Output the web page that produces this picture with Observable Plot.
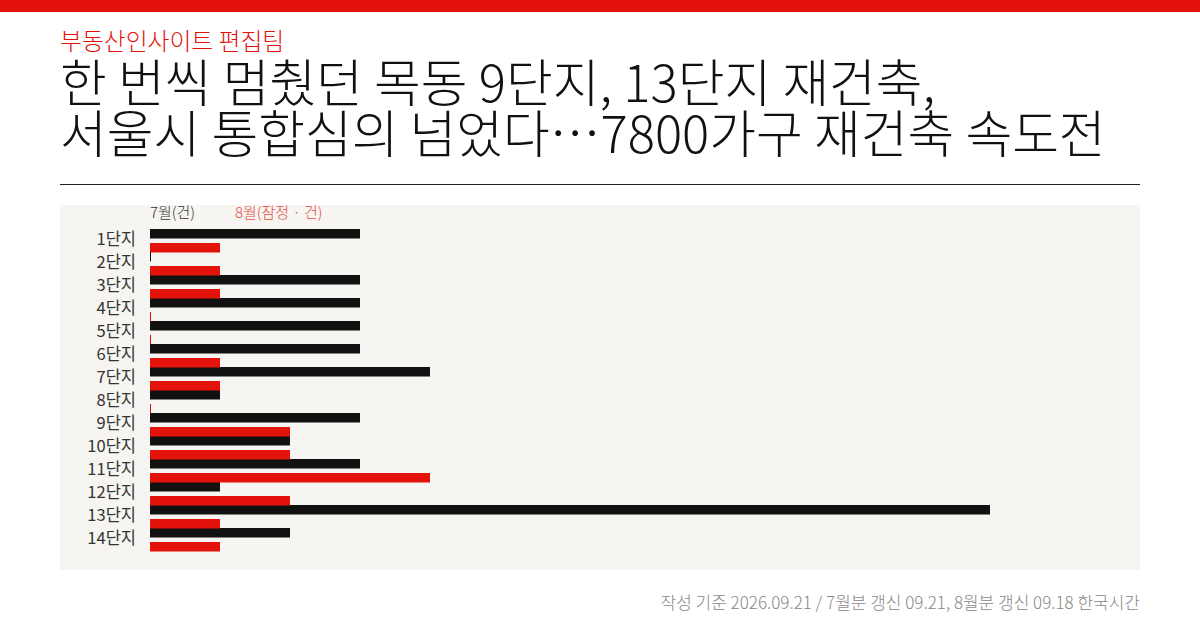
<!DOCTYPE html>
<html><head><meta charset="utf-8">
<script src="https://cdn.jsdelivr.net/npm/d3@7"></script>
<script src="https://cdn.jsdelivr.net/npm/@observablehq/plot@0.6"></script>
<style>
html,body{margin:0;padding:0;background:#fff;}
body{width:1200px;height:630px;position:relative;overflow:hidden;font-family:"Noto Sans CJK KR","Noto Sans",sans-serif;}
#topbar{position:absolute;left:0;top:0;width:1200px;height:12px;background:#e3120b;}
#kicker{position:absolute;left:60px;top:26px;font-size:23.8px;font-weight:300;color:#e3120b;line-height:28px;white-space:nowrap;}
#title{position:absolute;left:60px;top:55px;font-size:50.8px;font-weight:300;color:#111;line-height:51px;white-space:nowrap;}
#rule{position:absolute;left:60px;top:184px;width:1080px;height:1px;background:#222;}
#panel{position:absolute;left:60px;top:205px;width:1080px;height:365px;background:#f6f5f1;}
#legend{position:absolute;left:90px;top:-4px;font-size:15px;font-weight:300;line-height:22px;white-space:nowrap;}
#legend span{position:absolute;top:0;}
#footer{position:absolute;right:60px;top:590px;font-size:17px;font-weight:300;color:#888;white-space:nowrap;line-height:24px;}
</style></head>
<body>
<div id="topbar"></div>
<div id="kicker">부동산인사이트 편집팀</div>
<div id="title">한 번씩 멈췄던 목동 9단지, 13단지 재건축,<br>서울시 통합심의 넘었다…7800가구 재건축 속도전</div>
<div id="rule"></div>
<div id="panel"><div id="legend"><span style="left:0;color:#333">7월(건)</span><span style="left:85px;color:#e84a3f">8월(잠정 · 건)</span></div></div>
<div id="footer">작성 기준 2026.09.21 / 7월분 갱신 09.21, 8월분 갱신 09.18 한국시간</div>
<script>
const complexes = ["1단지","2단지","3단지","4단지","5단지","6단지","7단지","8단지","9단지","10단지","11단지","12단지","13단지","14단지"];
const july = [3,0,3,3,3,3,4,1,3,2,3,1,12,2];
const august = [1,1,1,0,0,1,1,0,2,2,4,2,1,1];

const julyData = complexes.map((c,i)=>({c, v: july[i]}));
const augData = complexes.map((c,i)=>({c, v: august[i]}));

const black = "#111111", red = "#e3120b";
const chart = Plot.plot({
  width: 1080,
  height: 365,
  marginLeft: 90,
  marginRight: 150,
  marginTop: 20,
  marginBottom: 15.5,
  style: {background: "transparent", fontFamily: "'Noto Sans CJK KR', sans-serif", fontSize: "16.5px", color: "#333"},
  x: {domain: [0, 12], axis: null},
  y: {domain: complexes, paddingInner: 0, paddingOuter: 0, label: null},
  marks: [
    Plot.axisY({tickSize: 0, tickPadding: 14.5, fontSize: 16.5, label: null, dy: -1.5}),
    Plot.barX(julyData, {x: "v", y: "c", fill: black, insetTop: 0, insetBottom: 13.5}),
    Plot.barX(augData, {x: "v", y: "c", fill: red, insetTop: 14, insetBottom: -0.5}),
    Plot.tickX(julyData.filter(d => d.v === 0), {x: "v", y: "c", stroke: black, insetTop: 0, insetBottom: 13.5}),
    Plot.tickX(augData.filter(d => d.v === 0), {x: "v", y: "c", stroke: red, insetTop: 14, insetBottom: -0.5})
  ]
});
document.getElementById("panel").appendChild(chart);
</script>
</body></html>
